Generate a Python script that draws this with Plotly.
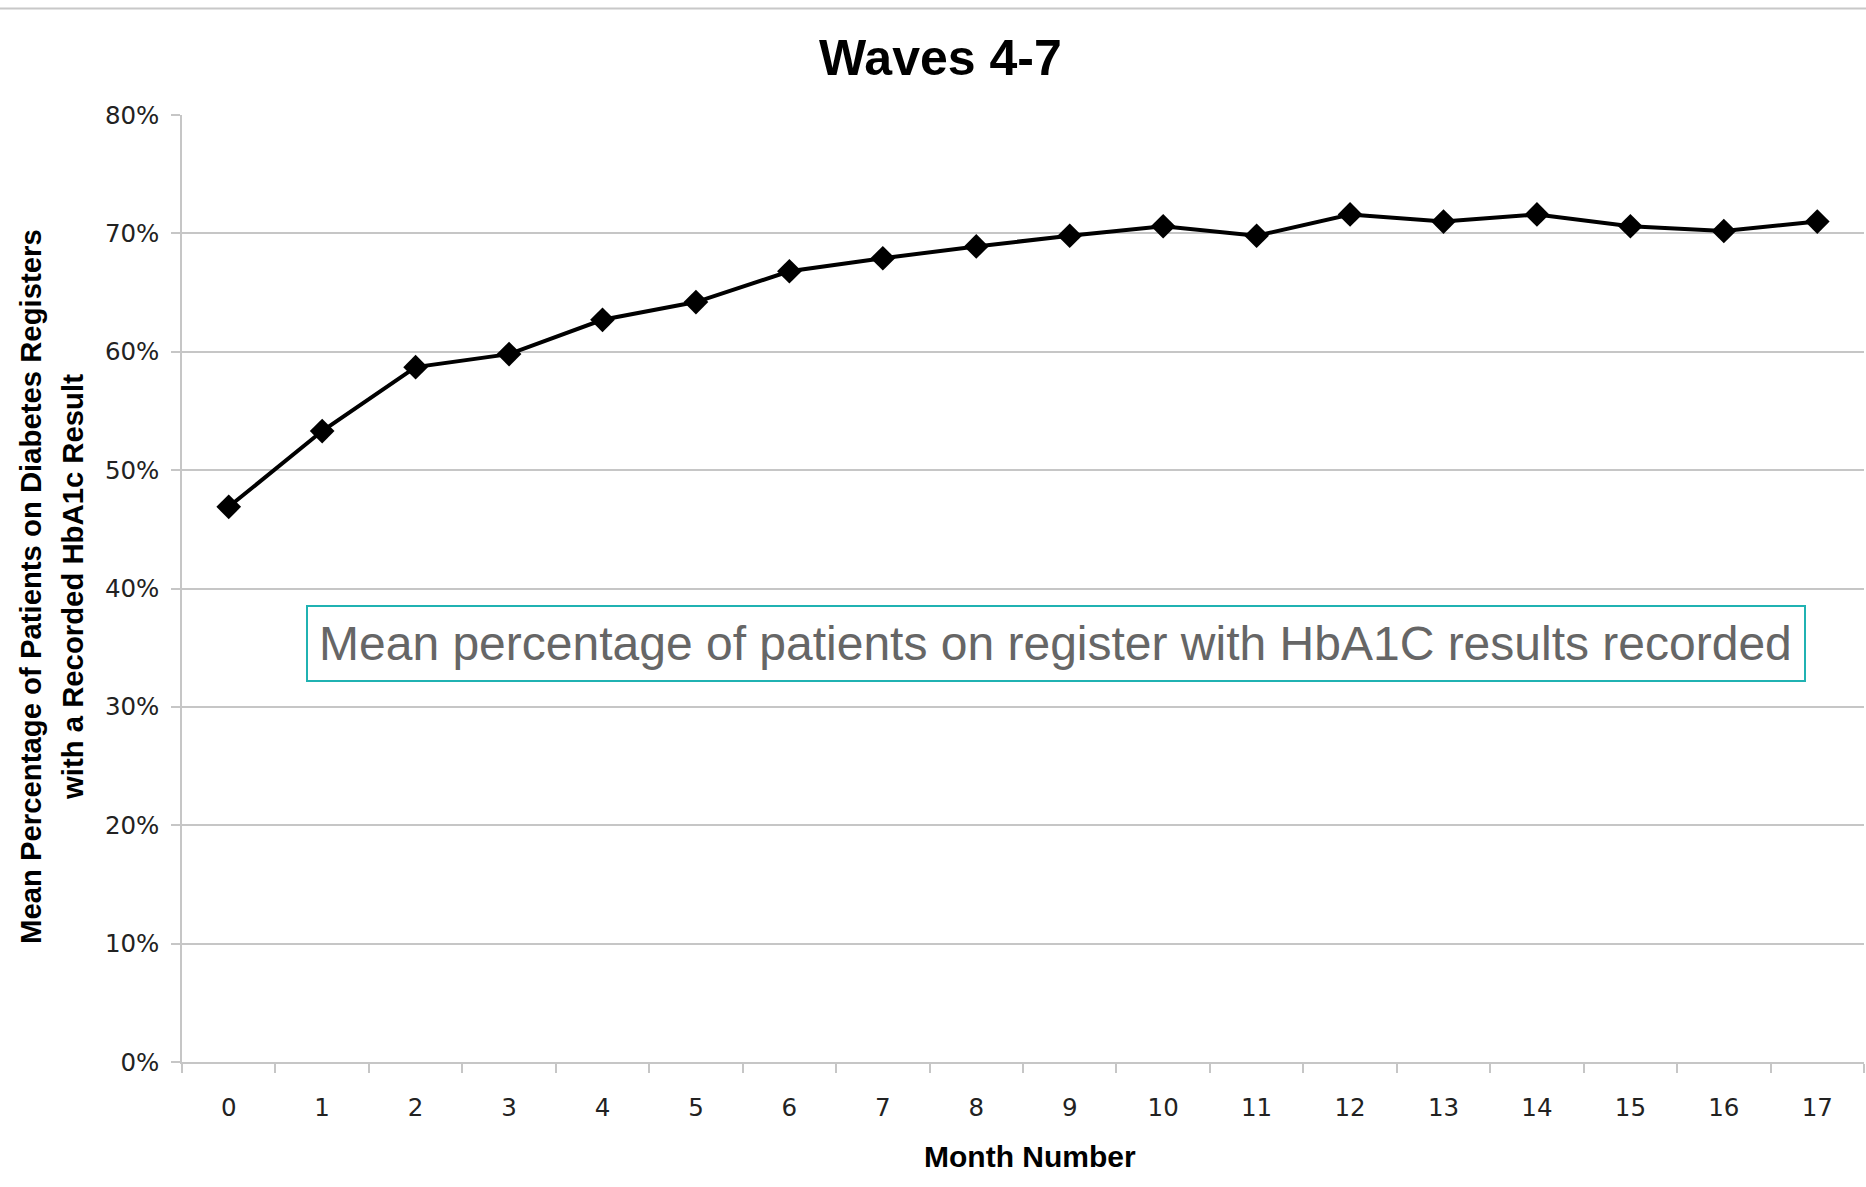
import plotly.graph_objects as go

months = [str(m) for m in range(18)]
pct_values = [46.9, 53.3, 58.7, 59.8, 62.7, 64.2, 66.8, 67.9, 68.9, 69.8,
              70.6, 69.8, 71.6, 71.0, 71.6, 70.6, 70.2, 71.0]
y_ticks = [0, 10, 20, 30, 40, 50, 60, 70, 80]
title_text = "Waves 4-7"
x_title = "Month Number"
y_title_1 = "Mean Percentage of Patients on Diabetes Registers"
y_title_2 = "with a Recorded HbA1c Result"
note_text = "Mean percentage of patients on register with HbA1C results recorded"

W, H = 1866, 1187
L, R, T, B = 182, 2, 115, 125
PW, PH = W - L - R, H - T - B


def px(x):
    return (x - L) / PW


def py(y):
    return (H - B - y) / PH


GRID = "#c6c6c6"
TICKFONT = dict(family="DejaVu Sans", size=24.5, color="#222222")

fig = go.Figure()
fig.add_trace(go.Scatter(
    x=months, y=pct_values, mode="lines+markers",
    line=dict(color="black", width=4),
    marker=dict(symbol="diamond", size=19, color="black"),
    showlegend=False, hoverinfo="skip",
))

fig.update_layout(
    width=W, height=H,
    margin=dict(l=L, r=R, t=T, b=B, pad=0),
    paper_bgcolor="white", plot_bgcolor="white",
    showlegend=False,
)
fig.update_xaxes(
    type="category", range=[-0.5, 17.5],
    tickmode="array", tickvals=months, ticktext=months,
    tickson="boundaries", ticks="outside", ticklen=9, tickwidth=1.5,
    tickcolor=GRID, showgrid=False, showline=True, linecolor=GRID,
    linewidth=1.5, tickfont=TICKFONT, ticklabelstandoff=23, zeroline=False,
)
fig.update_yaxes(
    range=[0, 80], tickmode="array", tickvals=y_ticks,
    ticktext=[f"{v}%" for v in y_ticks],
    ticks="outside", ticklen=9, tickwidth=1.5, tickcolor=GRID,
    showgrid=True, gridcolor=GRID, gridwidth=1.5,
    showline=True, linecolor=GRID, linewidth=1.5,
    tickfont=TICKFONT, ticklabelstandoff=7, zeroline=False,
)

annotations = [
    dict(text=f"<b>{title_text}</b>", x=px(940), y=py(58), xref="paper", yref="paper",
         showarrow=False, xanchor="center", yanchor="middle",
         font=dict(family="Liberation Sans", size=50, color="black")),
    dict(text=f"<b>{x_title}</b>", x=px(1030), y=py(1156), xref="paper", yref="paper",
         showarrow=False, xanchor="center", yanchor="middle",
         font=dict(family="Liberation Sans", size=30, color="black")),
    dict(text=f"<b>{y_title_1}</b>", x=px(30), y=py(587), xref="paper", yref="paper",
         showarrow=False, xanchor="center", yanchor="middle", textangle=-90,
         font=dict(family="Liberation Sans", size=29.3, color="black")),
    dict(text=f"<b>{y_title_2}</b>", x=px(72), y=py(587), xref="paper", yref="paper",
         showarrow=False, xanchor="center", yanchor="middle", textangle=-90,
         font=dict(family="Liberation Sans", size=29.3, color="black")),
    dict(text=note_text, x=px(1055), y=py(644), xref="paper", yref="paper",
         showarrow=False, xanchor="center", yanchor="middle",
         font=dict(family="Liberation Sans", size=48, color="#666666")),
]
fig.update_layout(annotations=annotations)

fig.add_shape(type="rect", xref="paper", yref="paper",
              x0=px(307), x1=px(1805), y0=py(681), y1=py(606),
              line=dict(color="#20b2b2", width=2), fillcolor="rgba(0,0,0,0)")
fig.add_shape(type="line", xref="paper", yref="paper",
              x0=px(0), x1=px(W), y0=py(8.5), y1=py(8.5),
              line=dict(color="#c8c8c8", width=2))

fig.write_html("out.html")
